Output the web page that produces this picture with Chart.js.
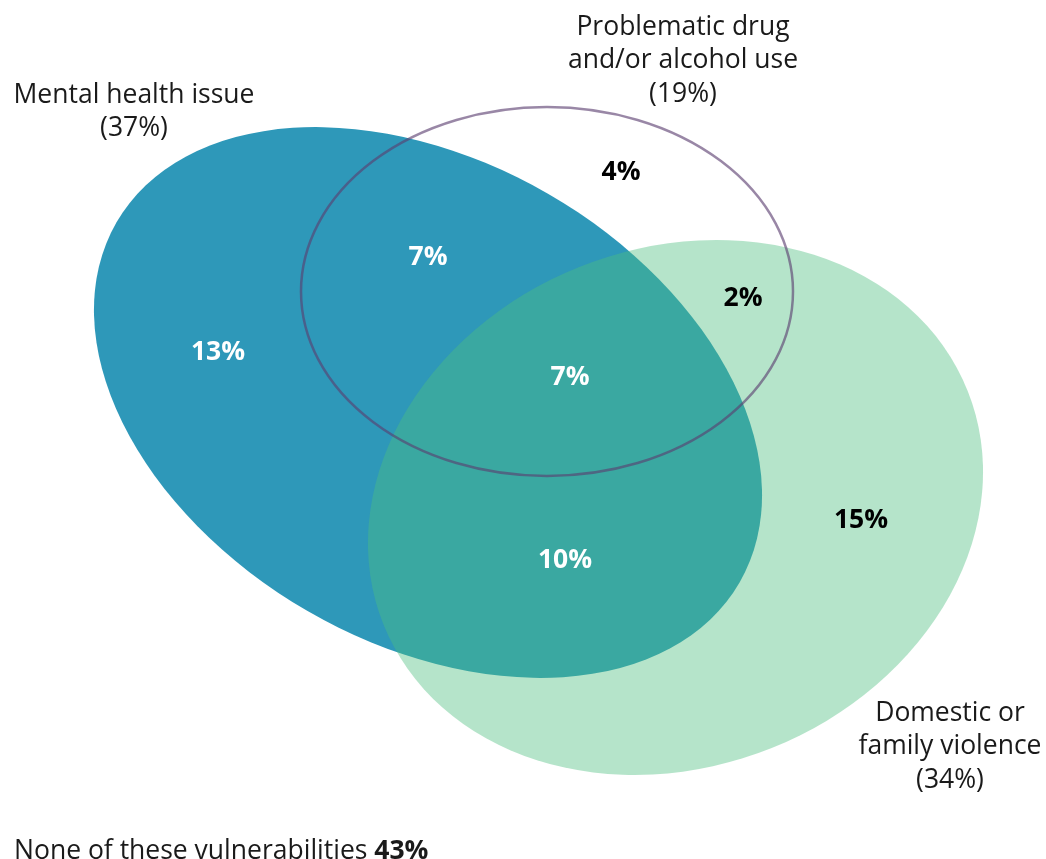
<!DOCTYPE html>
<html>
<head>
<meta charset="utf-8">
<script src="https://cdn.jsdelivr.net/npm/chart.js@4"></script>
<style>
  body { margin: 0; background: #fff; }
  #venn { display: block; }
</style>
</head>
<body>
<canvas id="venn" width="1046" height="859"></canvas>
<script>
// set names and totals
let setNames = [
  ["Mental health issue", "(37%)"],
  ["Problematic drug", "and/or alcohol use", "(19%)"],
  ["Domestic or", "family violence", "(34%)"]
];
let setTotals = [37, 19, 34];

// values of each region of the diagram
let regionNames = ["MH only", "MH + drug", "drug only", "all three", "drug + DFV", "MH + DFV", "DFV only"];
let regionValues = [13, 7, 4, 7, 2, 10, 15];
let noneValue = 43;

// layout (in the same units as the hidden axes)
let regionX = [218, 428, 621, 570, 743, 565, 861];
let regionY = [352, 257, 172, 377, 298, 560, 520];
let regionDark = [false, false, true, false, true, false, true];
let nameX = [134, 683, 950];
let nameY = [95, 27, 713];

// ellipses: centre x, centre y, radius x, radius y, rotation (deg)
let ellCx = [428, 547, 675.5];
let ellCy = [402.5, 291.5, 507.5];
let ellRx = [359.8, 246, 314.6];
let ellRy = [240.8, 184.5, 259.1];
let ellRot = [30, 0, -21.8];

const FONT = '"Open Sans", "Noto Sans", sans-serif';
const SIZE = 26.5;

function ellipsePath(chart, i) {
  let xs = chart.scales.x;
  let ys = chart.scales.y;
  let px = xs.getPixelForValue(ellCx[i]);
  let py = ys.getPixelForValue(ellCy[i]);
  let rx = Math.abs(xs.getPixelForValue(ellCx[i] + ellRx[i]) - px);
  let ry = Math.abs(ys.getPixelForValue(ellCy[i] + ellRy[i]) - py);
  chart.ctx.beginPath();
  chart.ctx.ellipse(px, py, rx, ry, ellRot[i] * Math.PI / 180, 0, Math.PI * 2);
}

function drawEllipses(chart) {
  let ctx = chart.ctx;
  ctx.save();
  // mental health
  ellipsePath(chart, 0);
  ctx.fillStyle = 'rgb(46,152,185)';
  ctx.fill();
  // violence, see-through on top
  ellipsePath(chart, 2);
  ctx.fillStyle = 'rgba(77,190,128,0.416)';
  ctx.fill();
  // drug, outline only
  ellipsePath(chart, 1);
  ctx.strokeStyle = 'rgba(91,62,111,0.62)';
  ctx.lineWidth = 2.5;
  ctx.stroke();
  ctx.restore();
}

function drawLabels(chart) {
  let ctx = chart.ctx;
  ctx.save();
  ctx.textAlign = 'center';
  ctx.textBaseline = 'middle';

  let regions = chart.getDatasetMeta(0).data;
  ctx.font = 'bold ' + SIZE + 'px ' + FONT;
  for (let i = 0; i < regions.length; i++) {
    ctx.fillStyle = regionDark[i] ? '#000' : '#fff';
    ctx.fillText(regionValues[i] + '%', regions[i].x, regions[i].y);
  }

  let names = chart.getDatasetMeta(1).data;
  ctx.font = SIZE + 'px ' + FONT;
  ctx.fillStyle = '#1a1a1a';
  for (let i = 0; i < names.length; i++) {
    for (let j = 0; j < setNames[i].length; j++) {
      ctx.fillText(setNames[i][j], names[i].x, names[i].y + j * 33.5);
    }
  }

  // footnote
  let fx = chart.scales.x.getPixelForValue(14);
  let fy = chart.scales.y.getPixelForValue(851);
  ctx.textAlign = 'left';
  let part1 = 'None of these vulnerabilities ';
  ctx.fillText(part1, fx, fy);
  let w = ctx.measureText(part1).width;
  ctx.font = 'bold ' + SIZE + 'px ' + FONT;
  ctx.fillText(noneValue + '%', fx + w, fy);
  ctx.restore();
}

function drawChart() {
  let ctx = document.getElementById('venn').getContext('2d');
  let regionPts = [];
  for (let i = 0; i < regionValues.length; i++) {
    regionPts.push({ x: regionX[i], y: regionY[i] });
  }
  let namePts = [];
  for (let i = 0; i < setTotals.length; i++) {
    namePts.push({ x: nameX[i], y: nameY[i] });
  }
  let myChart = new Chart(ctx, {
    type: 'scatter',
    data: {
      datasets: [
        { label: 'regions', data: regionPts, pointRadius: 0 },
        { label: 'sets', data: namePts, pointRadius: 0 }
      ]
    },
    options: {
      responsive: false,
      animation: false,
      events: [],
      layout: { padding: 0 },
      scales: {
        x: { type: 'linear', min: 0, max: 1046, display: false },
        y: { type: 'linear', min: 0, max: 859, reverse: true, display: false }
      },
      plugins: { legend: { display: false }, tooltip: { enabled: false } }
    },
    plugins: [{
      id: 'venn',
      beforeDatasetsDraw: drawEllipses,
      afterDatasetsDraw: drawLabels
    }]
  });
}

document.fonts.load('26px "Open Sans"').then(drawChart, drawChart);
</script>
</body>
</html>
